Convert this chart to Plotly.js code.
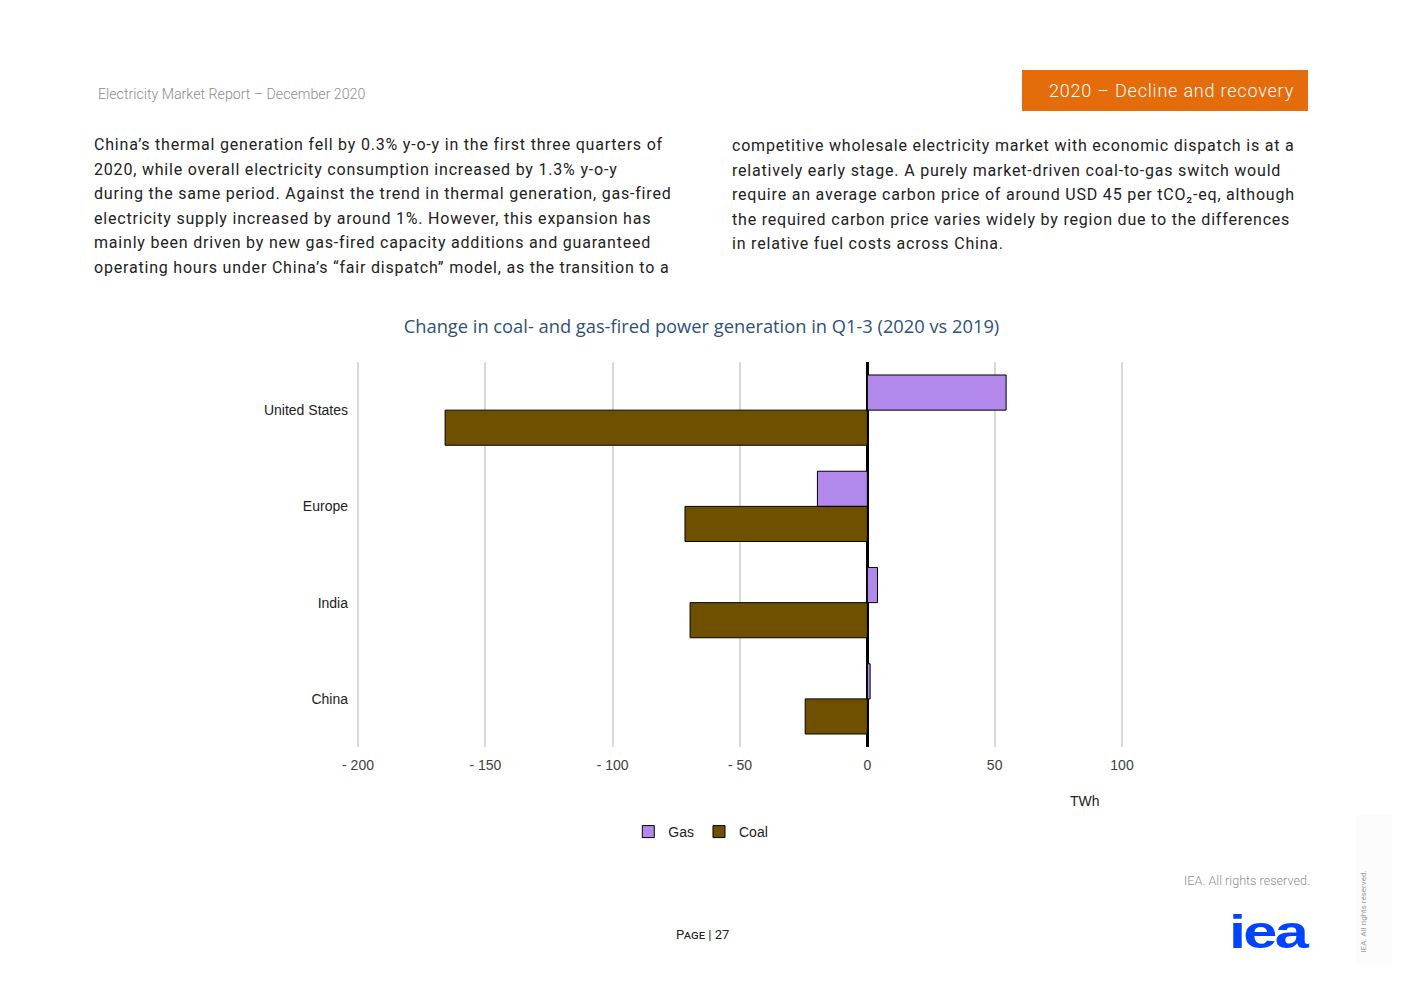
<!DOCTYPE html>
<html>
<head>
<meta charset="utf-8">
<script src="https://cdn.plot.ly/plotly-3.0.1.min.js"></script>
<style>
  html, body { margin:0; padding:0; background:#fff; }
  body { width:1403px; height:992px; position:relative; overflow:hidden; font-family:Roboto, "Liberation Sans", sans-serif; }
  .hdr { position:absolute; left:98px; top:86px; font-size:14.2px; color:#8c8c8c; font-family:"Roboto", sans-serif; font-weight:300; }
  .tab { position:absolute; left:1022px; top:70px; width:286px; height:41px; background:#e46c0a; color:#fff; font-size:18px; font-weight:300; line-height:41px; text-align:right; box-sizing:border-box; padding-right:14px; letter-spacing:0.8px; }
  .col { position:absolute; top:133px; font-size:16px; line-height:24.5px; color:#222; letter-spacing:0.8px; font-weight:400; white-space:nowrap; }
  .c1 { left:94px; }
  .c2 { left:732px; top:134px; }
  #chart { position:absolute; left:0; top:300px; width:1403px; height:560px; }
  .rights { position:absolute; left:1184px; top:873px; font-size:12.6px; color:#8c8c8c; font-weight:300; }
  .page { position:absolute; left:676px; top:927px; font-size:13px; color:#222; font-variant:small-caps; }
  .logo { position:absolute; left:1229px; top:909px; font-family:"Liberation Sans", Arial, sans-serif; font-weight:700; font-size:46px; color:#0044ff; letter-spacing:-2px; line-height:46px; transform:scale(1.33,1); transform-origin:left top; }
  .vert { position:absolute; left:1313px; top:907px; transform:rotate(-90deg); transform-origin:center; font-size:8px; color:#999; width:100px; text-align:center; }
  .vbox { position:absolute; left:1356px; top:815px; width:36px; height:150px; background:#fcfcfc; }
</style>
</head>
<body>
<div class="hdr">Electricity Market Report – December 2020</div>
<div class="tab">2020 – Decline and recovery</div>
<div class="col c1">China’s thermal generation fell by 0.3% y-o-y in the first three quarters of<br>2020, while overall electricity consumption increased by 1.3% y-o-y<br>during the same period. Against the trend in thermal generation, gas-fired<br>electricity supply increased by around 1%. However, this expansion has<br>mainly been driven by new gas-fired capacity additions and guaranteed<br>operating hours under China’s “fair dispatch” model, as the transition to a</div>
<div class="col c2">competitive wholesale electricity market with economic dispatch is at a<br>relatively early stage. A purely market-driven coal-to-gas switch would<br>require an average carbon price of around USD 45 per tCO₂-eq, although<br>the required carbon price varies widely by region due to the differences<br>in relative fuel costs across China.</div>
<div id="chart"></div>
<div class="rights">IEA. All rights reserved.</div>
<div class="vbox"></div>
<div class="vert">IEA. All rights reserved.</div>
<div class="page">Page | 27</div>
<div class="logo">iea</div>
<script>
const regions = ["United States", "Europe", "India", "China"];
const gasValues = [54.5, -19.6, 4.0, 1.1];
const coalValues = [-165.8, -71.6, -69.6, -24.4];
const xTickVals = [-200, -150, -100, -50, 0, 50, 100];
const xTickText = ["- 200", "- 150", "- 100", "- 50", "0", "50", "100"];

const traces = [
  { type:"bar", orientation:"h", name:"Gas", y:regions, x:gasValues,
    marker:{ color:"#b388eb", line:{ color:"#000", width:1 } }, hoverinfo:"x+name" },
  { type:"bar", orientation:"h", name:"Coal", y:regions, x:coalValues,
    marker:{ color:"#6e5000", line:{ color:"#000", width:1 } }, hoverinfo:"x+name" }
];

const layout = {
  width:1403, height:560,
  margin:{ l:357, r:280, t:62, b:113 },
  paper_bgcolor:"rgba(0,0,0,0)", plot_bgcolor:"rgba(0,0,0,0)",
  font:{ family:"Liberation Sans, Arial, sans-serif", size:13, color:"#404040" },
  title:{ text:"Change in coal- and gas-fired power generation in Q1-3 (2020 vs 2019)",
          font:{ family:"Open Sans, sans-serif", size:18.3, color:"#2e5178" },
          xref:"container", x:0.5, xanchor:"center", yref:"container", y:1-27/560, yanchor:"middle" },
  barmode:"group", bargap:0.27, bargroupgap:0,
  xaxis:{ range:[-200.4, 100.4], tickvals:xTickVals, ticktext:xTickText, showgrid:true,
          gridcolor:"#d9d9d9", gridwidth:2, zeroline:true, zerolinecolor:"#000", zerolinewidth:3,
          showline:false, ticks:"", ticklabelstandoff:8, tickfont:{ size:14, color:"#404040" }, fixedrange:true },
  yaxis:{ autorange:"reversed", showgrid:false, zeroline:false, showline:false, ticks:"",
          ticklabelstandoff:8, tickfont:{ size:14, color:"#222" }, fixedrange:true },
  showlegend:true,
  legend:{ orientation:"h", xref:"container", yref:"container", x:0.4995, xanchor:"center",
           y:(860-832)/560, yanchor:"middle", font:{ size:14, color:"#222" }, itemwidth:30, traceorder:"normal" },
  annotations:[{ text:"TWh", xref:"x", x:85.3, yref:"paper", y:(747-801)/385, yanchor:"middle",
                 showarrow:false, font:{ size:14, color:"#222" } }]
};

Plotly.newPlot("chart", traces, layout, { displayModeBar:false, staticPlot:true });
</script>
</body>
</html>
